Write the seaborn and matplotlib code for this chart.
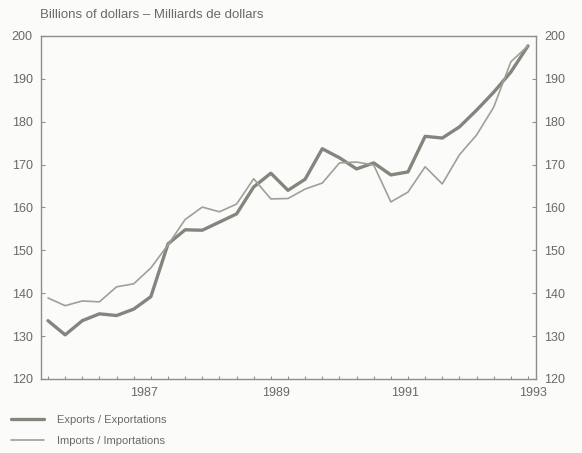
import matplotlib
matplotlib.use("Agg")
import matplotlib.pyplot as plt
from matplotlib.ticker import FixedLocator, MultipleLocator
import seaborn as sns
import pandas as pd
import numpy as np

# ---- data (quarterly, 1986Q1 .. 1993Q1), billions of dollars ----
quarters = [1986 + i / 4 for i in range(29)]
exports = [133.6, 130.3, 133.6, 135.2, 134.8, 136.3, 139.2, 151.5, 154.8, 154.7,
           156.6, 158.5, 164.8, 168.0, 164.0, 166.6, 173.7, 171.6, 169.0, 170.4,
           167.6, 168.3, 176.6, 176.2, 178.8, 182.7, 186.9, 191.6, 197.7]
imports = [138.9, 137.1, 138.2, 138.0, 141.5, 142.2, 145.9, 151.3, 157.2, 160.1,
           159.0, 160.8, 166.7, 162.0, 162.1, 164.3, 165.7, 170.4, 170.6, 169.9,
           161.3, 163.6, 169.5, 165.5, 172.3, 176.9, 183.4, 194.0, 197.7]
series_names = ["Exports / Exportations", "Imports / Importations"]
year_labels = ["1987", "1989", "1991", "1993"]
year_label_pos = [1987.40, 1989.33, 1991.20, 1993.07]
y_ticks = [120, 130, 140, 150, 160, 170, 180, 190, 200]
title = "Billions of dollars \u2013 Milliards de dollars"

df = pd.DataFrame({
    "quarter": quarters * 2,
    "value": exports + imports,
    "series": [series_names[0]] * len(quarters) + [series_names[1]] * len(quarters),
})

sns.set_style("white")
plt.rcParams["font.family"] = ["Liberation Sans", "DejaVu Sans"]

text_col = "#6a6a64"
spine_col = "#8f8f88"
bg = "#fbfbf9"

fig = plt.figure(figsize=(5.82, 4.53), dpi=100, facecolor=bg)
ax = fig.add_axes([41 / 582, 1 - 379 / 453, (536 - 41) / 582, (379 - 36) / 453])
ax.set_facecolor(bg)

palette = {series_names[0]: "#85857d", series_names[1]: "#a0a098"}
sns.lineplot(data=df, x="quarter", y="value", hue="series", palette=palette,
             size="series", sizes={series_names[0]: 2.4, series_names[1]: 1.2},
             ax=ax, legend=False)

ax.set_xlim(1986 - 7 / 68.6, 1993 + 8 / 68.6)
ax.set_ylim(120, 200)
ax.set_xlabel("")
ax.set_ylabel("")

ax.yaxis.set_major_locator(FixedLocator(y_ticks))
ax.yaxis.set_minor_locator(MultipleLocator(5))
ax.xaxis.set_major_locator(FixedLocator(year_label_pos))
ax.set_xticklabels(year_labels)
ax.xaxis.set_minor_locator(FixedLocator(quarters))

for s in ax.spines.values():
    s.set_color(spine_col)
    s.set_linewidth(1.0)

ax.tick_params(axis="y", which="major", direction="in", length=3, width=0.8,
               color=spine_col, labelcolor=text_col, labelsize=9,
               left=True, right=True, labelleft=True, labelright=True, pad=6)
ax.tick_params(axis="y", which="minor", direction="in", length=0)
ax.tick_params(axis="x", which="major", length=0, labelcolor=text_col,
               labelsize=9, pad=6)
ax.tick_params(axis="x", which="minor", direction="in", length=2.5, width=0.8,
               color=spine_col, bottom=True)

fig.text(40 / 582, 1 - 15 / 453, title, color=text_col, fontsize=9.5,
         va="center", ha="left")

handles = ax.get_lines()[:2]
leg = fig.legend(handles, series_names, loc="lower left",
                 bbox_to_anchor=(0.0, -4 / 453), frameon=False, fontsize=8,
                 handlelength=3.0, handletextpad=1.1, labelspacing=0.96,
                 borderaxespad=0.6)
for t in leg.get_texts():
    t.set_color(text_col)

fig.savefig("out.png", dpi=100, facecolor=bg)
